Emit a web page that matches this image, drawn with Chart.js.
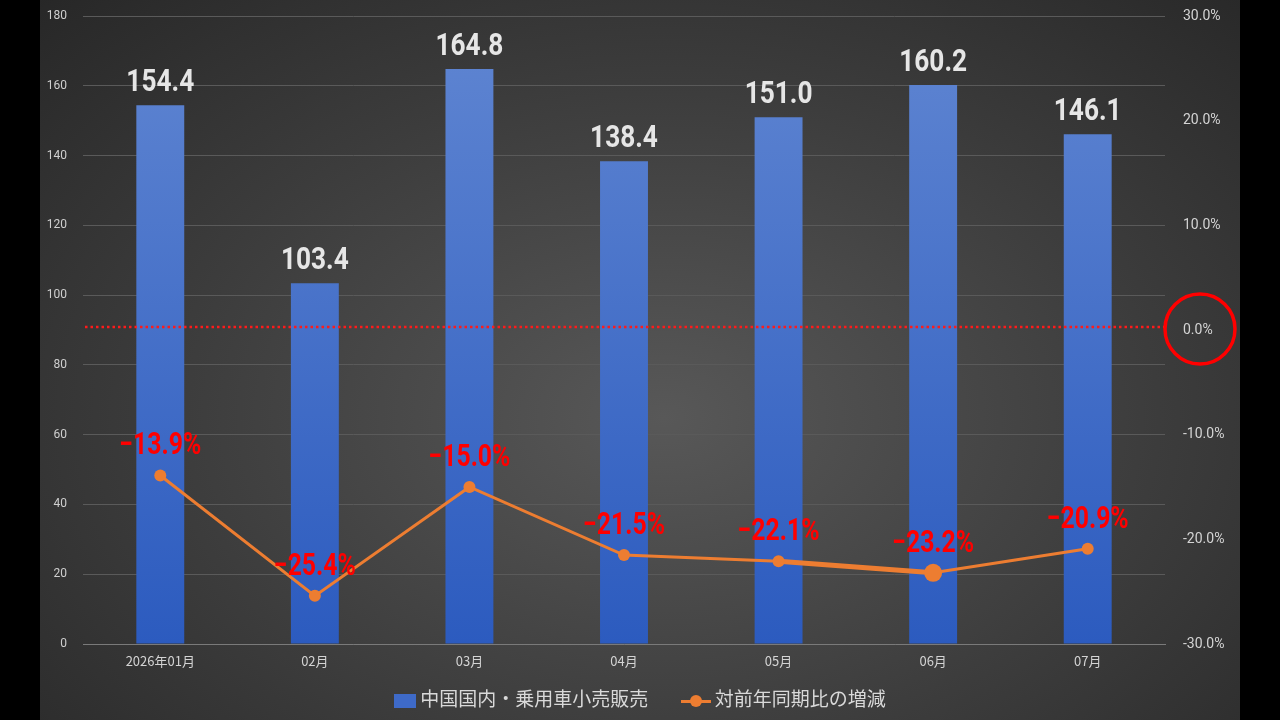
<!DOCTYPE html>
<html>
<head>
<meta charset="utf-8">
<script src="https://cdn.jsdelivr.net/npm/chart.js@4.4.1/dist/chart.umd.min.js"></script>
<style>
body{margin:0;background:#000;width:1280px;height:720px;overflow:hidden;}
#wrap{position:absolute;left:40px;top:0;width:1200px;height:720px;
  background:radial-gradient(ellipse 75% 85% at 52% 58%, #585858 0%, #3c3c3c 55%, #262626 100%);}
#legend{position:absolute;left:0;top:680px;width:1200px;text-align:center;color:#d9d9d9;
  font-family:"Noto Sans CJK JP","Noto Sans",sans-serif;font-size:19px;line-height:30px;}
#legend span.item{display:inline-block;margin:0 14px;vertical-align:middle;}
#legend i{display:inline-block;vertical-align:middle;}
.box{width:22px;height:14px;background:#3e6ac8;margin-right:4px;}
.ln{position:relative;width:30px;height:14px;margin-right:4px;}
.ln:before{content:"";position:absolute;left:0;right:0;top:6px;height:3px;background:#ED7D31;}
.ln:after{content:"";position:absolute;left:9px;top:1px;width:12px;height:12px;border-radius:50%;background:#ED7D31;}
</style>
</head>
<body>
<div id="wrap">
  <canvas id="myChart" width="1200" height="720"></canvas>
  <div id="legend">
    <span class="item"><i class="box"></i>中国国内・乗用車小売販売</span>
    <span class="item"><i class="ln"></i>対前年同期比の増減</span>
  </div>
</div>
<script>
/*==== data ====*/
const labels = ['2026年01月', '02月', '03月', '04月', '05月', '06月', '07月'];
const sales = [154.4, 103.4, 164.8, 138.4, 151.0, 160.2, 146.1];
const yoy = [-13.9, -25.4, -15.0, -21.5, -22.1, -23.2, -20.9];
const seriesNames = ['中国国内・乗用車小売販売', '対前年同期比の増減'];

const numFont = '"Roboto", sans-serif';

// narrow text: squeeze horizontally round its centre
function narrowText(ctx, txt, x, y, sx) {
    ctx.save();
    ctx.translate(x, y);
    ctx.scale(sx, 1);
    ctx.fillText(txt, 0, 0);
    ctx.restore();
}

/*==== plugins ====*/
// red dotted zero line + circle round the 0.0% tick
const zeroMark = {
    id: 'zeroMark',
    afterDatasetsDraw(chart) {
        const ctx = chart.ctx;
        const area = chart.chartArea;
        const y = chart.scales.y1.getPixelForValue(0) - 3;
        ctx.save();
        ctx.strokeStyle = '#ff1a1a';
        ctx.lineWidth = 2.5;
        ctx.setLineDash([2.5, 3]);
        ctx.beginPath();
        ctx.moveTo(area.left + 2, y);
        ctx.lineTo(area.right, y);
        ctx.stroke();
        ctx.setLineDash([]);
        ctx.lineWidth = 3.5;
        ctx.strokeStyle = '#ff0000';
        ctx.beginPath();
        ctx.arc(1160, y + 2, 35, 0, Math.PI * 2);
        ctx.stroke();
        ctx.restore();
    }
};

// value labels above bars and points
const valueLabels = {
    id: 'valueLabels',
    afterDatasetsDraw(chart) {
        const ctx = chart.ctx;
        ctx.save();
        ctx.textAlign = 'center';
        ctx.textBaseline = 'alphabetic';
        const bars = chart.getDatasetMeta(0).data;
        ctx.font = 'bold 32px ' + numFont;
        ctx.fillStyle = '#e6e6e6';
        bars.forEach((b, i) => {
            narrowText(ctx, sales[i].toFixed(1), b.x, b.y - 14, 0.82);
        });
        const pts = chart.getDatasetMeta(1).data;
        ctx.font = 'bold 31px ' + numFont;
        ctx.fillStyle = '#ff0000';
        pts.forEach((p, i) => {
            narrowText(ctx, '−' + Math.abs(yoy[i]).toFixed(1) + '%', p.x, p.y - 21, 0.8);
        });
        ctx.restore();
    }
};

/*=== config ====*/
const data = {
    labels: labels,
    datasets: [
        {
            type: 'bar',
            label: seriesNames[0],
            data: sales,
            yAxisID: 'y',
            order: 2,
            backgroundColor: function(c) {
                const area = c.chart.chartArea;
                if (!area) return '#4472c4';
                const g = c.chart.ctx.createLinearGradient(0, area.top, 0, area.bottom);
                g.addColorStop(0, '#6086d2');
                g.addColorStop(1, '#2c5bbf');
                return g;
            },
            barPercentage: 0.31,
            categoryPercentage: 1
        },
        {
            type: 'line',
            label: seriesNames[1],
            data: yoy,
            yAxisID: 'y1',
            order: 1,
            borderColor: '#ED7D31',
            backgroundColor: '#ED7D31',
            borderWidth: 3,
            pointRadius: c => c.dataIndex === 5 ? 9 : 6,
            pointBorderWidth: 0,
            segment: {
                borderWidth: c => c.p0DataIndex === 4 ? 5 : 3
            },
            tension: 0
        }
    ]
};

const config = {
    data,
    options: {
        responsive: false,
        animation: false,
        layout: { padding: { top: 16, left: 0, right: 0, bottom: 0 } },
        plugins: {
            legend: { display: false },
            tooltip: { enabled: false }
        },
        scales: {
            x: {
                grid: { display: false, drawTicks: false },
                border: { color: '#7a7a7a', width: 1 },
                ticks: { color: '#d4d4d4', font: { size: 13, family: 'Noto Sans CJK JP' }, padding: 9 },
                afterFit(s) { s.height = 76; }
            },
            y: {
                position: 'left',
                min: 0,
                max: 180,
                ticks: { stepSize: 20, color: '#cfcfcf', font: { size: 12, family: 'Roboto' }, padding: 16 },
                grid: { color: '#5a5a5a', drawTicks: false },
                border: { display: false },
                afterFit(s) { s.width = 43; s.paddingTop = 0; s.paddingBottom = 0; }
            },
            y1: {
                position: 'right',
                min: -30,
                max: 30,
                ticks: {
                    stepSize: 10,
                    color: '#d4d4d4',
                    font: { size: 14, family: 'Roboto' },
                    padding: 18,
                    callback: v => v.toFixed(1) + '%'
                },
                grid: { display: false, drawTicks: false },
                border: { display: false },
                afterFit(s) { s.width = 75; s.paddingTop = 0; s.paddingBottom = 0; }
            }
        }
    },
    plugins: [zeroMark, valueLabels]
};

/*===== render =====*/
const myChart = new Chart(document.getElementById('myChart'), config);
</script>
</body>
</html>
